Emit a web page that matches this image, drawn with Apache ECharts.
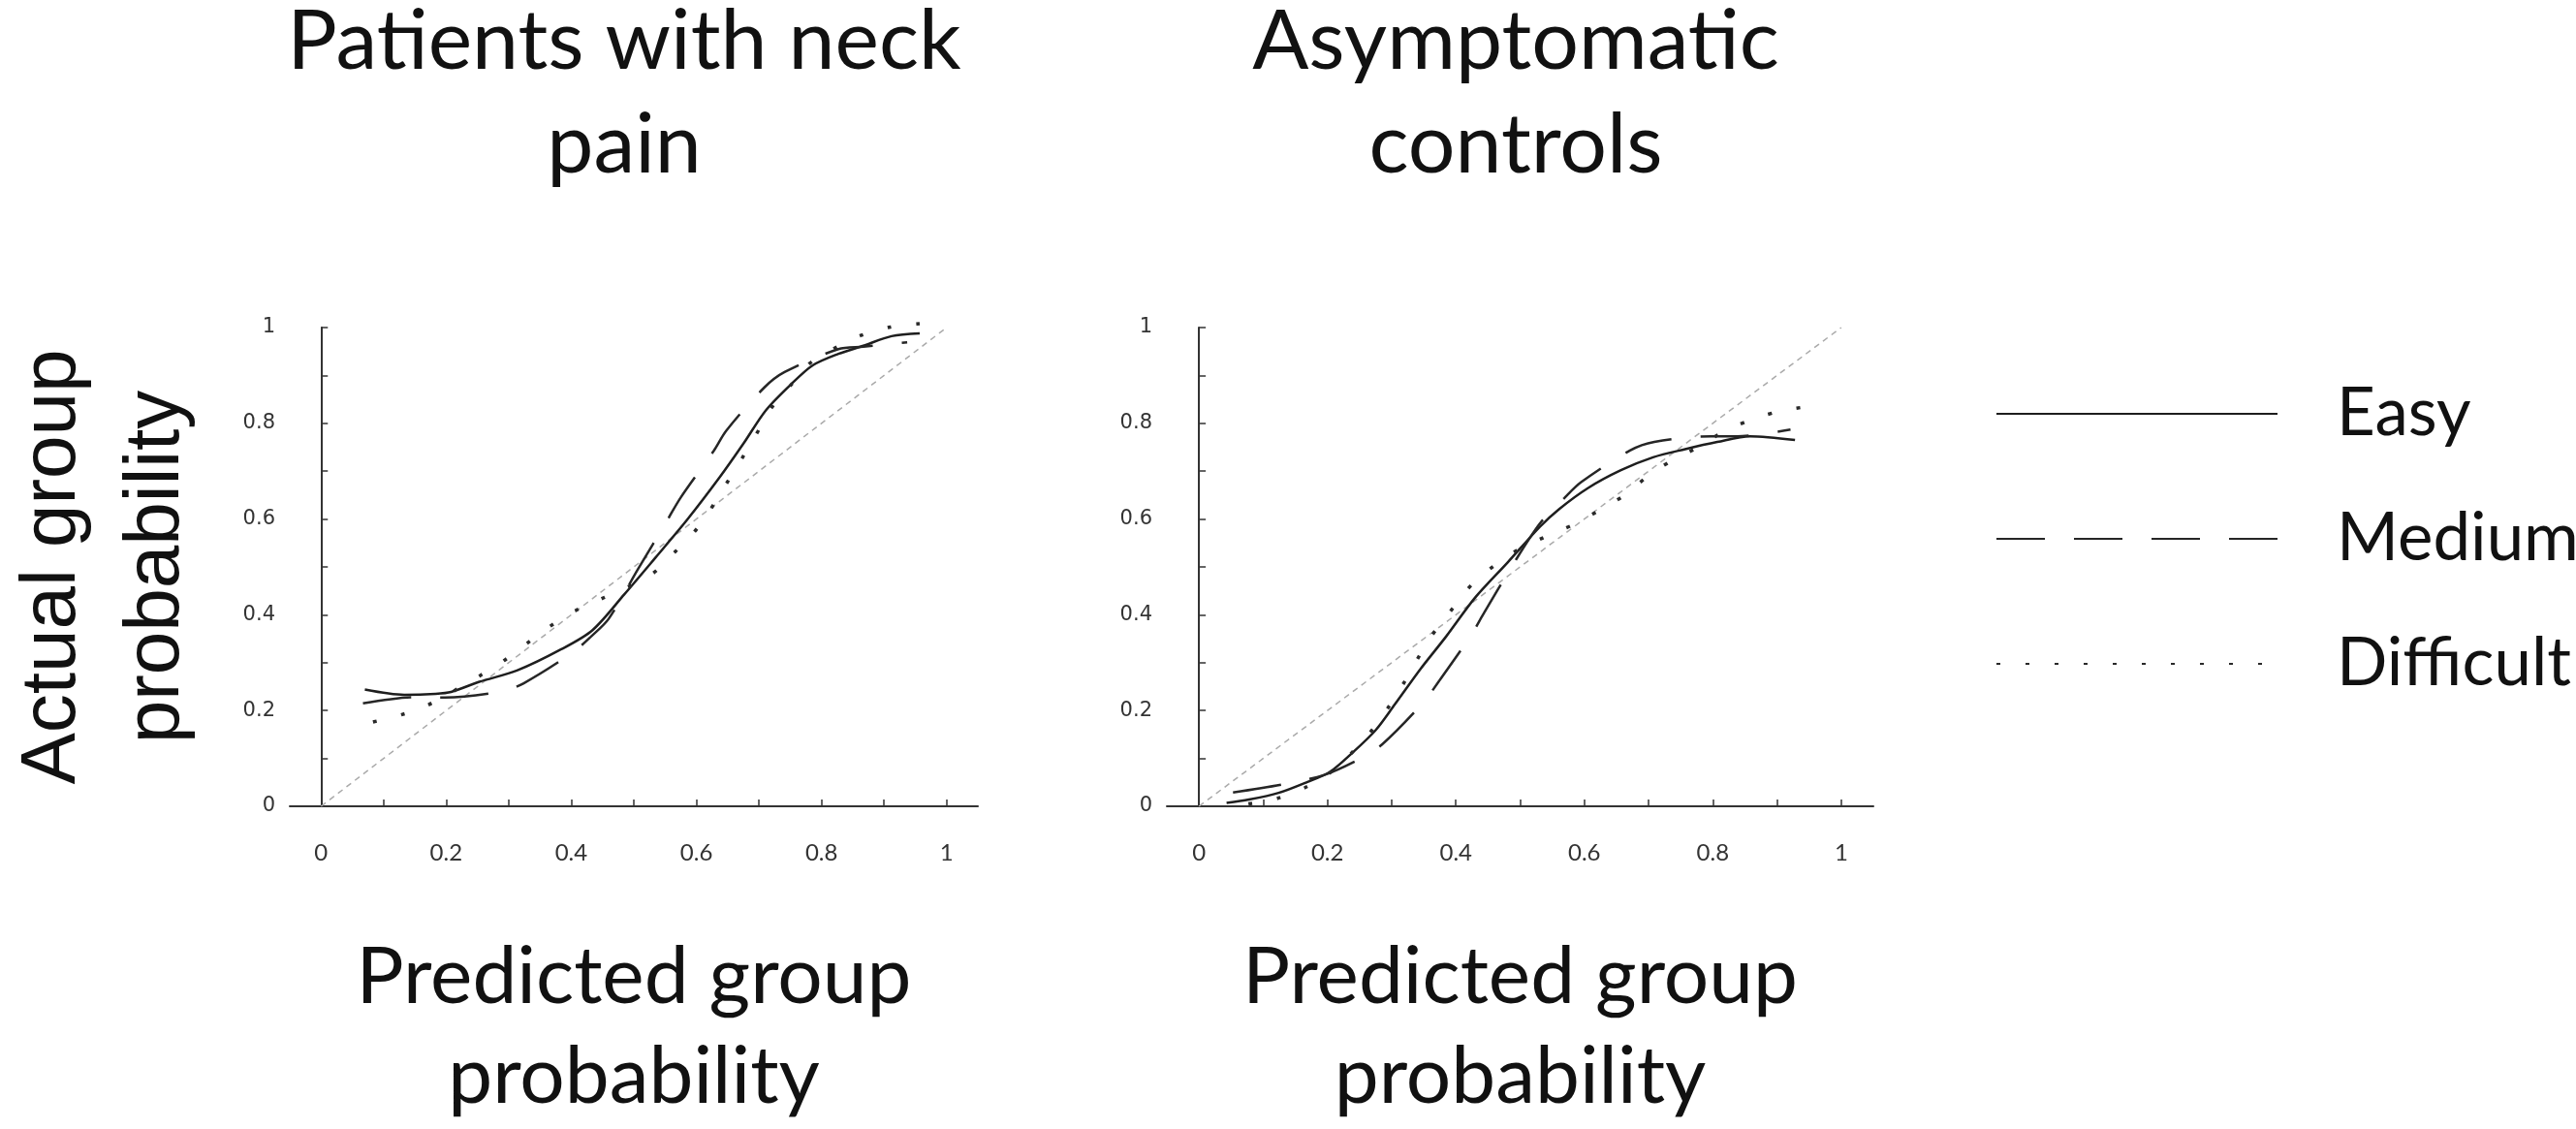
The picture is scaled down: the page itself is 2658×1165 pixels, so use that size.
<!DOCTYPE html>
<html>
<head>
<meta charset="UTF-8">
<title>Predicted vs actual group probability</title>
<script src="https://cdn.jsdelivr.net/npm/echarts@6.0.0/dist/echarts.min.js"></script>
<style>
  html, body { margin: 0; padding: 0; background: #fff; }
  #chart { width: 2658px; height: 1165px; }
</style>
</head>
<body>
<div id="chart"></div>
<script>
// tick / label values shared by both panels
const tickValues = [0, 0.1, 0.2, 0.3, 0.4, 0.5, 0.6, 0.7, 0.8, 0.9, 1]
const labelValues = [0, 0.2, 0.4, 0.6, 0.8, 1]
const diagX = [0, 1]
const diagY = [0, 1]

// panel 1: patients with neck pain
const easyPainX = [0.07, 0.133, 0.183, 0.208, 0.253, 0.314, 0.384, 0.434, 0.485, 0.535, 0.585, 0.636, 0.676, 0.711, 0.751, 0.786, 0.827, 0.867, 0.912, 0.957]
const easyPainY = [0.244, 0.233, 0.235, 0.239, 0.260, 0.284, 0.328, 0.368, 0.443, 0.520, 0.598, 0.685, 0.759, 0.827, 0.881, 0.921, 0.945, 0.962, 0.982, 0.988]
const mediumPainX = [0.067, 0.148, 0.198, 0.289, 0.324, 0.402, 0.432, 0.460, 0.507, 0.555, 0.575, 0.628, 0.648, 0.708, 0.741, 0.827, 0.867, 0.937]
const mediumPainY = [0.215, 0.228, 0.227, 0.240, 0.257, 0.321, 0.355, 0.392, 0.496, 0.601, 0.645, 0.743, 0.785, 0.874, 0.907, 0.955, 0.960, 0.969]
const difficultPainX = [0.083, 0.128, 0.170, 0.211, 0.253, 0.291, 0.329, 0.365, 0.407, 0.449, 0.490, 0.530, 0.564, 0.596, 0.623, 0.648, 0.674, 0.697, 0.721, 0.751, 0.781, 0.821, 0.864, 0.910, 0.957]
const difficultPainY = [0.176, 0.191, 0.211, 0.240, 0.272, 0.303, 0.340, 0.375, 0.409, 0.434, 0.458, 0.486, 0.529, 0.572, 0.621, 0.674, 0.729, 0.780, 0.834, 0.880, 0.925, 0.957, 0.984, 1.001, 1.008]

// panel 2: asymptomatic controls
const easyCtrlX = [0.043, 0.078, 0.124, 0.169, 0.204, 0.239, 0.275, 0.305, 0.345, 0.385, 0.430, 0.481, 0.531, 0.561, 0.606, 0.657, 0.707, 0.757, 0.807, 0.858, 0.928]
const easyCtrlY = [0.007, 0.014, 0.028, 0.051, 0.072, 0.112, 0.159, 0.213, 0.287, 0.355, 0.436, 0.510, 0.584, 0.621, 0.665, 0.702, 0.729, 0.746, 0.761, 0.773, 0.765]
const mediumCtrlX = [0.053, 0.131, 0.194, 0.249, 0.285, 0.348, 0.373, 0.423, 0.443, 0.488, 0.531, 0.569, 0.595, 0.671, 0.709, 0.797, 0.838, 0.921]
const mediumCtrlY = [0.029, 0.046, 0.065, 0.098, 0.129, 0.215, 0.260, 0.356, 0.402, 0.503, 0.591, 0.644, 0.677, 0.743, 0.761, 0.773, 0.773, 0.787]
const difficultCtrlX = [0.077, 0.121, 0.165, 0.202, 0.238, 0.270, 0.296, 0.320, 0.343, 0.368, 0.396, 0.426, 0.462, 0.498, 0.541, 0.584, 0.624, 0.663, 0.700, 0.740, 0.777, 0.820, 0.863, 0.907, 0.953]
const difficultCtrlY = [0.005, 0.016, 0.039, 0.068, 0.112, 0.160, 0.209, 0.260, 0.314, 0.367, 0.415, 0.465, 0.505, 0.537, 0.564, 0.589, 0.619, 0.650, 0.691, 0.725, 0.750, 0.785, 0.809, 0.826, 0.836]

const panelTitles = ['Patients with neck\npain', 'Asymptomatic\ncontrols']
const xName = 'Predicted group\nprobability'
const yName = 'Actual group\nprobability'
const legendNames = ['Easy', 'Medium', 'Difficult']

const zip = (xs, ys) => xs.map((x, i) => [x, ys[i]])

const styles = {
  Easy: { color: '#1e1e1e', width: 2.5, type: 'solid' },
  Medium: { color: '#262626', width: 2.5, type: [50, 30] },
  Difficult: { color: '#2a2a2a', width: 3.5, type: [4, 26] }
}

function curve (name, xs, ys, idx) {
  return {
    type: 'line',
    name: name,
    xAxisIndex: idx,
    yAxisIndex: idx,
    data: zip(xs, ys),
    symbol: 'none',
    smooth: 0.3,
    clip: false,
    z: 3,
    itemStyle: { color: styles[name].color },
    lineStyle: styles[name]
  }
}

function diagonal (idx) {
  return {
    type: 'line',
    name: 'Reference',
    xAxisIndex: idx,
    yAxisIndex: idx,
    data: zip(diagX, diagY),
    symbol: 'none',
    z: 2,
    itemStyle: { color: '#aaa' },
    lineStyle: { color: '#aaa', width: 1.5, type: [6, 5] }
  }
}

const bigFont = 'Lato, "Open Sans", sans-serif'
const smallFont = '"DejaVu Sans", Verdana, sans-serif'

function xAxis (idx) {
  return {
    type: 'value',
    gridIndex: idx,
    min: -0.05,
    max: 1.05,
    offset: 25,
    name: xName,
    nameLocation: 'middle',
    nameGap: 100,
    nameTextStyle: { fontFamily: bigFont, fontSize: 82, lineHeight: 103, color: '#111' },
    axisLine: { lineStyle: { color: '#333', width: 2 } },
    axisTick: { inside: true, length: 7, customValues: tickValues, lineStyle: { color: '#333', width: 1.5 } },
    axisLabel: { customValues: labelValues, margin: 11, fontFamily: bigFont, fontSize: 24, color: '#333' },
    splitLine: { show: false }
  }
}

function yAxis (idx) {
  return {
    type: 'value',
    gridIndex: idx,
    min: 0,
    max: 1,
    name: idx === 0 ? yName : '',
    nameLocation: 'middle',
    nameRotate: 90,
    nameGap: 84,
    nameTextStyle: { fontFamily: '"Liberation Sans", Arial, sans-serif', fontSize: 80, lineHeight: 107, color: '#111' },
    axisLine: { lineStyle: { color: '#333', width: 2 } },
    axisTick: { inside: true, length: 7, customValues: tickValues, lineStyle: { color: '#333', width: 1.5 } },
    axisLabel: { customValues: labelValues, margin: 15, fontFamily: smallFont, fontSize: 21, color: '#333' },
    splitLine: { show: false }
  }
}

const chart = echarts.init(document.getElementById('chart'))

chart.setOption({
  animation: false,
  backgroundColor: '#fff',
  title: [
    { text: panelTitles[0], left: 644, top: -10, textAlign: 'center', padding: 0,
      textStyle: { fontFamily: bigFont, fontSize: 86, lineHeight: 107, fontWeight: 'normal', color: '#111' } },
    { text: panelTitles[1], left: 1564, top: -10, textAlign: 'center', padding: 0,
      textStyle: { fontFamily: bigFont, fontSize: 86, lineHeight: 107, fontWeight: 'normal', color: '#111' } }
  ],
  legend: {
    data: legendNames,
    orient: 'vertical',
    left: 2059,
    top: 387,
    padding: 0,
    itemWidth: 290,
    itemHeight: 2,
    itemGap: 49,
    selectedMode: false,
    // hide the round marker the line icon puts in the middle
    itemStyle: { opacity: 0 },
    textStyle: { fontFamily: bigFont, fontSize: 69, lineHeight: 80, color: '#111', padding: [0, 0, 0, 56] }
  },
  grid: [
    { left: 280, top: 338, width: 729, height: 494 },
    { left: 1204, top: 338, width: 729, height: 494 }
  ],
  xAxis: [xAxis(0), xAxis(1)],
  yAxis: [yAxis(0), yAxis(1)],
  series: [
    diagonal(0),
    curve('Easy', easyPainX, easyPainY, 0),
    curve('Medium', mediumPainX, mediumPainY, 0),
    curve('Difficult', difficultPainX, difficultPainY, 0),
    diagonal(1),
    curve('Easy', easyCtrlX, easyCtrlY, 1),
    curve('Medium', mediumCtrlX, mediumCtrlY, 1),
    curve('Difficult', difficultCtrlX, difficultCtrlY, 1)
  ]
})
</script>
</body>
</html>
